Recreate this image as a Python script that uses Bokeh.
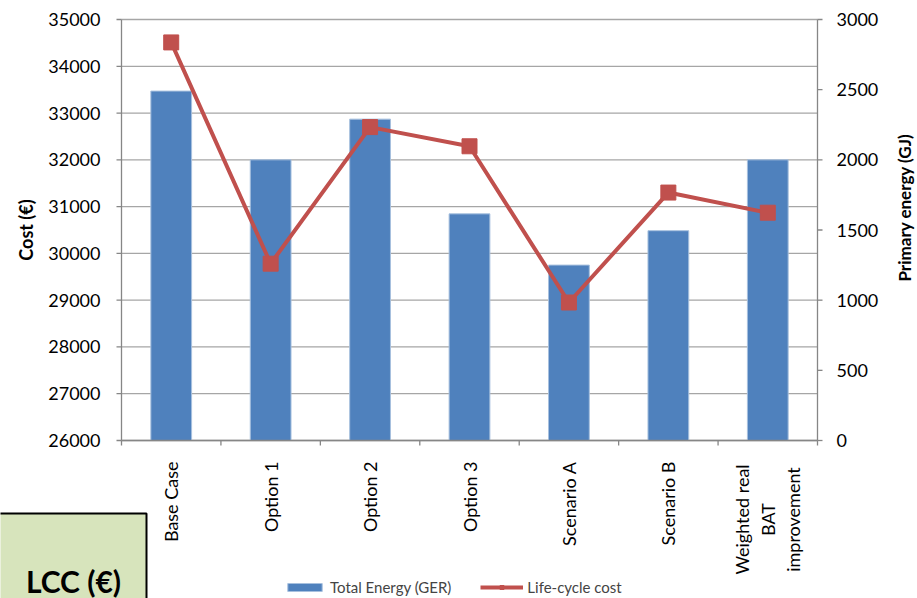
import math

from bokeh.core.properties import value
from bokeh.embed import file_html
from bokeh.models import Legend, LegendItem, Range1d
from bokeh.plotting import figure
from bokeh.resources import INLINE

# Improvement options compared on life-cycle cost and primary energy
categories = ["Base Case", "Option 1", "Option 2", "Option 3",
              "Scenario A", "Scenario B", "Weighted real\nBAT\nimprovement"]
energy_gj = [2490, 2000, 2290, 1615, 1250, 1495, 2000]
lcc_eur = [34510, 29780, 32700, 32290, 28950, 31300, 30870]

cost_ticks = list(range(26000, 35001, 1000))
energy_ticks = list(range(0, 3001, 500))

FONT = "Lato"
AXIS_GREY = "#868686"
GRID_GREY = "#a6a6a6"
BLUE = "#4f81bd"
RED = "#c0504d"

# Page layout (pixels from the top-left of the drawing frame)
FRAME_W, FRAME_H = 917, 598
AX_L, AX_R, AX_T, AX_B = 121, 817, 19, 440

n = len(categories)
centres = [i + 0.5 for i in range(n)]
borders = list(range(n + 1))

slot_px = (AX_R - AX_L) / n
cost_per_px = (cost_ticks[-1] - cost_ticks[0]) / (AX_B - AX_T)
energy_per_px = (energy_ticks[-1] - energy_ticks[0]) / (AX_B - AX_T)


def fx(px):
    """frame pixel column -> slot coordinate"""
    return (px - AX_L) / slot_px


def fy(py):
    """frame pixel row -> cost coordinate"""
    return cost_ticks[0] + (AX_B - py) * cost_per_px


def fe(py):
    """frame pixel row -> energy coordinate"""
    return energy_ticks[0] + (AX_B - py) * energy_per_px


p = figure(width=FRAME_W, height=FRAME_H,
           x_range=Range1d(fx(0), fx(FRAME_W)),
           y_range=Range1d(fy(FRAME_H), fy(0)),
           x_axis_type=None, y_axis_type=None,
           output_backend="svg", toolbar_location=None,
           min_border_left=0, min_border_right=0,
           min_border_top=0, min_border_bottom=0)
p.outline_line_color = None
p.background_fill_color = "white"
p.border_fill_color = "white"
p.extra_y_ranges = {"energy": Range1d(fe(FRAME_H), fe(0))}

text_style = dict(text_font=value(FONT), text_color="black")
axis_style = dict(line_color=AXIS_GREY, line_width=1.3)

# horizontal gridlines on the cost scale
p.segment(x0=[borders[0]] * len(cost_ticks), x1=[borders[-1]] * len(cost_ticks),
          y0=cost_ticks, y1=cost_ticks, line_color=GRID_GREY, line_width=1.3)

# energy bars and life-cycle cost line
bars = p.vbar(x=centres, top=energy_gj, bottom=0, width=0.41, y_range_name="energy",
              fill_color=BLUE, line_color="#a7c0de", line_width=1)
cost_line = p.line(x=centres, y=lcc_eur, line_color=RED, line_width=4)
p.scatter(x=centres, y=lcc_eur, marker="square", size=15, fill_color=RED, line_color=RED)

# cost axis on the left
p.segment(x0=[0], x1=[0], y0=[cost_ticks[0]], y1=[cost_ticks[-1]], **axis_style)
p.segment(x0=[fx(AX_L - 5)] * len(cost_ticks), x1=[0] * len(cost_ticks),
          y0=cost_ticks, y1=cost_ticks, **axis_style)
p.text(x=[fx(AX_L - 21)] * len(cost_ticks), y=cost_ticks, text=[str(t) for t in cost_ticks],
       text_align="right", text_baseline="middle", text_font_size="18px", **text_style)
p.text(x=[fx(25)], y=[fy((AX_T + AX_B) / 2)], text=["Cost (€)"], angle=math.pi / 2,
       text_align="center", text_baseline="middle", text_font_size="18px",
       text_font_style="bold", **text_style)

# primary energy axis on the right
p.segment(x0=[n], x1=[n], y0=[energy_ticks[0]], y1=[energy_ticks[-1]],
          y_range_name="energy", **axis_style)
p.segment(x0=[n] * len(energy_ticks), x1=[fx(AX_R + 5)] * len(energy_ticks),
          y0=energy_ticks, y1=energy_ticks, y_range_name="energy", **axis_style)
p.text(x=[fx(AX_R + 19)] * len(energy_ticks), y=energy_ticks,
       text=[str(t) for t in energy_ticks], y_range_name="energy",
       text_align="left", text_baseline="middle", text_font_size="18px", **text_style)
p.text(x=[fx(904)], y=[fy(207)], text=["Primary energy (GJ)"], angle=math.pi / 2,
       text_align="center", text_baseline="middle", text_font_size="17px",
       text_font_style="bold", **text_style)

# category axis along the bottom, small ticks on the slot borders
p.segment(x0=[borders[0]], x1=[borders[-1]], y0=[cost_ticks[0]], y1=[cost_ticks[0]],
          **axis_style)
p.segment(x0=borders, x1=borders, y0=[cost_ticks[0]] * len(borders),
          y1=[fy(AX_B + 5)] * len(borders), **axis_style)
p.text(x=centres[:-1], y=[fy(AX_B + 21)] * (n - 1), text=categories[:-1], angle=math.pi / 2,
       text_align="right", text_baseline="middle", text_font_size="18px", **text_style)
p.text(x=centres[-1:], y=[fy(AX_B + 79)], text=categories[-1:], angle=math.pi / 2,
       text_align="center", text_baseline="middle", text_font_size="18px",
       text_line_height=1.15, **text_style)

# legend (the line key carries a smaller marker than the plotted points)
key_mark = p.scatter(x=[float("nan")], y=[float("nan")], marker="square", size=10,
                     fill_color=RED, line_color=RED)
legend = Legend(items=[LegendItem(label="Total Energy (GER)", renderers=[bars]),
                       LegendItem(label="Life-cycle cost", renderers=[cost_line, key_mark])],
                orientation="horizontal", location=(283, 2),
                glyph_width=43, glyph_height=10, label_height=16, label_standoff=4,
                spacing=29, padding=0, margin=0, border_line_color=None,
                background_fill_alpha=0, label_text_font=FONT, label_text_font_size="15px")
p.add_layout(legend)

# LCC caption box in the lower-left corner
p.quad(left=[fx(-2)], right=[fx(146)], top=[fy(513)], bottom=[fy(FRAME_H + 4)],
       fill_color="#d7e4bc", line_color="black", line_width=2)
p.text(x=[fx(73)], y=[fy(580)], text=["LCC (€)"], text_align="center", text_baseline="middle",
       text_font_size="30px", text_font_style="bold", **text_style)

open("out.html", "w").write(file_html(p, INLINE))
